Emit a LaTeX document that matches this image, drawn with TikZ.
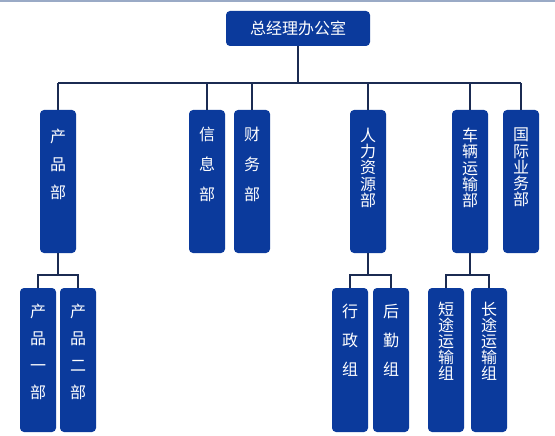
\documentclass[tikz,border=0pt]{standalone}
\usepackage{fontspec}
\setmainfont{Noto Sans CJK SC}
\definecolor{boxblue}{HTML}{0B3A9C}
\definecolor{linenavy}{HTML}{1B2B52}
\definecolor{toplinec}{HTML}{9AAAC6}
\newcommand{\vstack}[4]{\parbox[c][#1][t]{36pt}{\fontsize{16}{#2}\selectfont\centering\vspace*{#3}#4}}
\tikzset{
  dept/.style={fill=boxblue, rounded corners=4pt, inner sep=0pt, text=white, font=\fontsize{16}{16}\selectfont},
  conn/.style={draw=linenavy, line width=2pt}
}
\begin{document}
\begin{tikzpicture}[x=1pt, y=-1pt]
\useasboundingbox (0,0) rectangle (555,436);
\fill[white] (0,0) rectangle (555,436);
\draw[toplinec, line width=1.5pt] (0,1) -- (555,1);
% top
\node[dept, minimum width=144pt, minimum height=35pt] (top) at (298,28.5) {总经理办公室};
% level 2
\node[dept] (cp) at (58,181.5) {\vstack{143pt}{28pt}{19pt}{产\\品\\部}};
\node[dept] (xx) at (207,181.5) {\vstack{143pt}{30pt}{17pt}{信\\息\\部}};
\node[dept] (cw) at (252,181.5) {\vstack{143pt}{30pt}{17pt}{财\\务\\部}};
\node[dept] (rl) at (368,181.5) {\vstack{143pt}{16.3pt}{18pt}{人\\力\\资\\源\\部}};
\node[dept] (cl) at (470,181.5) {\vstack{143pt}{16.3pt}{18pt}{车\\辆\\运\\输\\部}};
\node[dept] (gj) at (521,181.5) {\vstack{143pt}{16.3pt}{18pt}{国\\际\\业\\务\\部}};
% level 3
\node[dept] (cp1) at (38,360) {\vstack{144pt}{27pt}{16pt}{产\\品\\一\\部}};
\node[dept] (cp2) at (78,360) {\vstack{144pt}{27pt}{16pt}{产\\品\\二\\部}};
\node[dept] (xz) at (350,360) {\vstack{144pt}{29pt}{16pt}{行\\政\\组}};
\node[dept] (hq) at (391,360) {\vstack{144pt}{29pt}{16pt}{后\\勤\\组}};
\node[dept] (dt) at (446,360) {\vstack{144pt}{16pt}{14pt}{短\\途\\运\\输\\组}};
\node[dept] (ct) at (489,360) {\vstack{144pt}{16pt}{14pt}{长\\途\\运\\输\\组}};
% connectors
\coordinate (bus) at (0,83);
\draw[conn] (top.south) -- (top.south |- bus);
\draw[conn] (cp.north |- bus) -- (gj.north |- bus);
\foreach \n in {cp,xx,cw,rl,cl,gj} \draw[conn] (\n.north) -- (\n.north |- bus);
\coordinate (busb) at (0,274.5);
\draw[conn] (cp.south) -- (cp.south |- busb);
\draw[conn] (cp1.north) -- (cp1.north |- busb) -- (cp2.north |- busb) -- (cp2.north);
\draw[conn] (rl.south) -- (rl.south |- busb);
\draw[conn] (xz.north) -- (xz.north |- busb) -- (hq.north |- busb) -- (hq.north);
\draw[conn] (cl.south) -- (cl.south |- busb);
\draw[conn] (dt.north) -- (dt.north |- busb) -- (ct.north |- busb) -- (ct.north);
\end{tikzpicture}
\end{document}
